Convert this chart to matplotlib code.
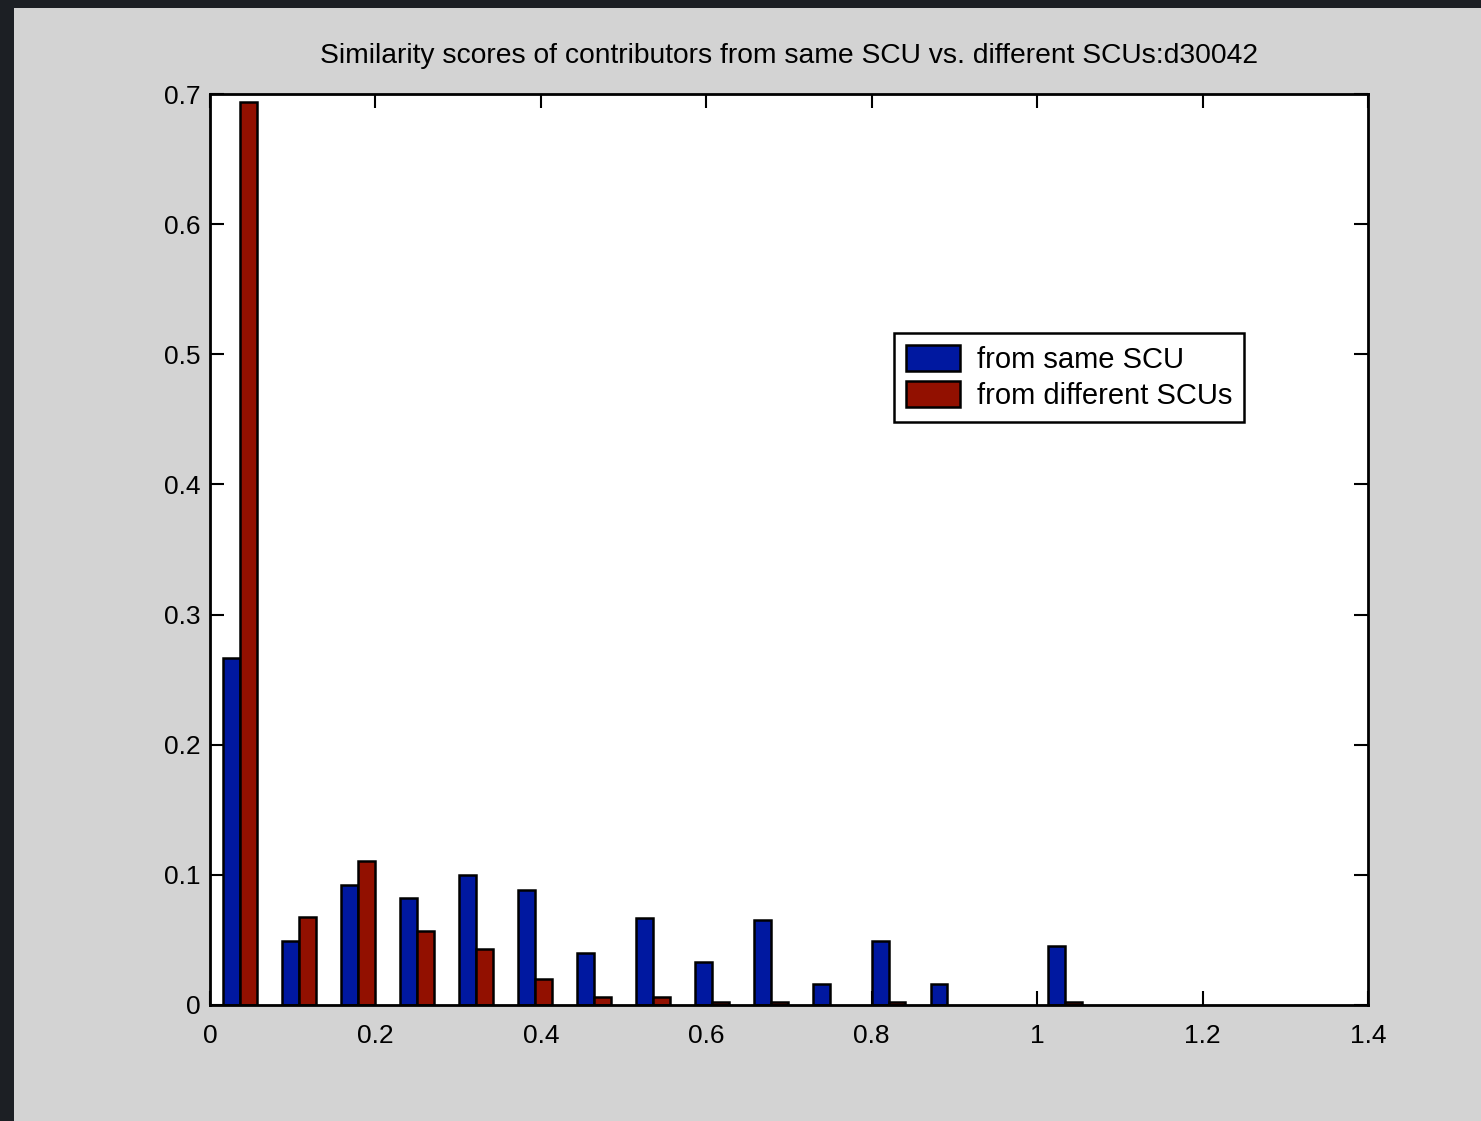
import matplotlib
matplotlib.use("Agg")
import matplotlib.pyplot as plt
import numpy as np
from matplotlib.patches import Rectangle

plt.rcParams['font.family'] = ['Liberation Sans', 'DejaVu Sans']

# Histogram bin centres (similarity score) and relative frequencies
bin_centers = 0.036 + 0.0713 * np.arange(15)
same_scu = [0.267, 0.049, 0.092, 0.082, 0.100, 0.088, 0.040, 0.067,
            0.033, 0.065, 0.016, 0.049, 0.016, 0.0, 0.045]
diff_scu = [0.694, 0.068, 0.111, 0.057, 0.043, 0.020, 0.006, 0.006,
            0.002, 0.002, 0.0, 0.002, 0.0, 0.0, 0.002]
series_labels = ['from same SCU', 'from different SCUs']
title_text = 'Similarity scores of contributors from same SCU vs. different SCUs:d30042'
x_ticks = [0, 0.2, 0.4, 0.6, 0.8, 1.0, 1.2, 1.4]
x_ticklabels = ['0', '0.2', '0.4', '0.6', '0.8', '1', '1.2', '1.4']
y_ticks = [0, 0.1, 0.2, 0.3, 0.4, 0.5, 0.6, 0.7]
y_ticklabels = ['0', '0.1', '0.2', '0.3', '0.4', '0.5', '0.6', '0.7']

W, H = 1481, 1121
fig = plt.figure(figsize=(W / 100, H / 100), dpi=100)
fig.patch.set_facecolor('#1c1f24')

# window background
fig.add_artist(Rectangle((14 / W, 0), 1 - 14 / W, 1 - 8 / H,
                         transform=fig.transFigure, facecolor='#d3d3d3',
                         edgecolor='none', zorder=0))

ax = fig.add_axes([210 / W, 1 - 1005 / H, (1368 - 210) / W, (1005 - 94) / H])
ax.set_facecolor('white')

# empty bins are left undrawn
same_plot = np.where(np.array(same_scu) > 0, same_scu, np.nan)
diff_plot = np.where(np.array(diff_scu) > 0, diff_scu, np.nan)

bw = 0.0205
blue = '#0018a0'
red = '#921000'
ax.bar(bin_centers - bw / 2, same_plot, width=bw, color=blue,
       edgecolor='black', linewidth=1.8, label=series_labels[0], zorder=3)
ax.bar(bin_centers + bw / 2, diff_plot, width=bw, color=red,
       edgecolor='black', linewidth=1.8, label=series_labels[1], zorder=3)

ax.set_xlim(0, 1.4)
ax.set_ylim(0, 0.7)
ax.set_xticks(x_ticks)
ax.set_xticklabels(x_ticklabels)
ax.set_yticks(y_ticks)
ax.set_yticklabels(y_ticklabels)
ax.tick_params(direction='in', length=10, width=1.5, top=True, right=True,
               labelsize=19, colors='black')
ax.tick_params(axis='x', pad=14)
ax.tick_params(axis='y', pad=7)
for s in ax.spines.values():
    s.set_linewidth(2)
    s.set_color('black')
    s.set_zorder(5)

ax.set_title(title_text, fontsize=20.3, pad=22)

leg = ax.legend(loc='upper left', bbox_to_anchor=((894 - 210) / (1368 - 210),
                                                  (1005 - 333) / (1005 - 94)),
                fontsize=21, frameon=True, fancybox=False, borderpad=0.4,
                handlelength=1.85, handleheight=1.0, handletextpad=0.6,
                labelspacing=0.25, borderaxespad=0)
leg.get_frame().set_edgecolor('black')
leg.get_frame().set_linewidth(1.8)
leg.get_frame().set_alpha(1)

fig.savefig('out.png', dpi=100, facecolor=fig.get_facecolor())
